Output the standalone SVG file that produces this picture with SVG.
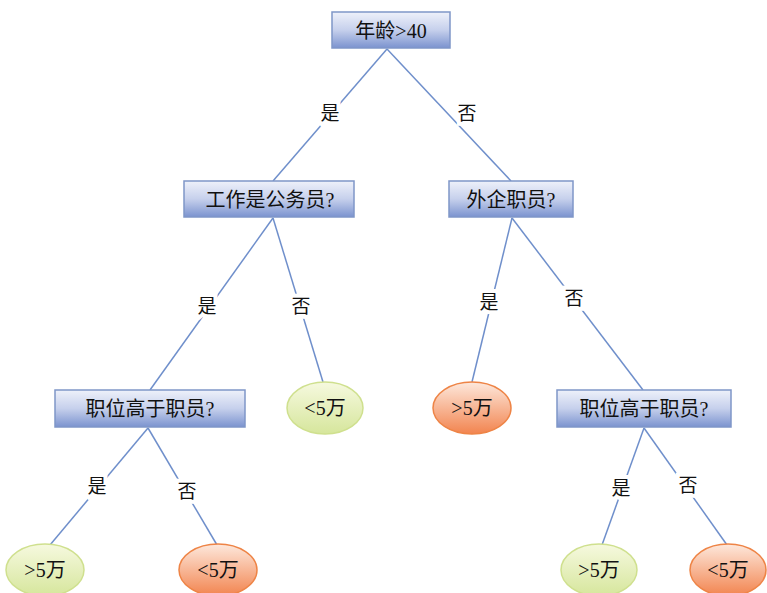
<svg xmlns="http://www.w3.org/2000/svg" width="767" height="593" viewBox="0 0 767 593">
<defs>
<linearGradient id="gBox" x1="0" y1="0" x2="0" y2="1">
<stop offset="0" stop-color="#eef1fa"/>
<stop offset="0.5" stop-color="#c6d0ec"/>
<stop offset="1" stop-color="#7b93cf"/>
</linearGradient>
<linearGradient id="gGreen" x1="0" y1="0" x2="0" y2="1">
<stop offset="0" stop-color="#f6f9df"/>
<stop offset="1" stop-color="#d6e69c"/>
</linearGradient>
<linearGradient id="gOrange" x1="0" y1="0" x2="0" y2="1">
<stop offset="0" stop-color="#fde8dc"/>
<stop offset="1" stop-color="#f2844f"/>
</linearGradient>
<style>
.box{fill:url(#gBox);stroke:#7f96c8;stroke-width:1.5}
.green{fill:url(#gGreen);stroke:#cfe08e;stroke-width:1.5}
.orange{fill:url(#gOrange);stroke:#ee8446;stroke-width:1.5}
.t{font-family:"Liberation Serif","Noto Sans CJK SC",serif;font-size:20px;fill:#111;text-anchor:middle;dominant-baseline:central}
.lbl{font-family:"Liberation Serif","Noto Sans CJK SC",serif;font-size:19px;fill:#111;text-anchor:middle;dominant-baseline:central;stroke:#fff;stroke-width:8;paint-order:stroke}
.c line{stroke:#6f8fcb;stroke-width:1.5}
</style>
</defs>
<rect width="767" height="593" fill="#fff"/>
<g id="connectors" class="c">
<line x1="387" y1="49" x2="273" y2="181"/>
<line x1="387" y1="49" x2="511" y2="181"/>
<line x1="273" y1="218" x2="150" y2="390"/>
<line x1="273" y1="218" x2="323" y2="382"/>
<line x1="512" y1="218" x2="472" y2="382"/>
<line x1="512" y1="218" x2="643" y2="390"/>
<line x1="148" y1="428" x2="50" y2="545"/>
<line x1="148" y1="428" x2="217" y2="545"/>
<line x1="644" y1="428" x2="602" y2="545"/>
<line x1="644" y1="428" x2="727" y2="545"/>
<text class="lbl" x="330" y="113">是</text>
<text class="lbl" x="467" y="113">否</text>
<text class="lbl" x="207" y="306">是</text>
<text class="lbl" x="301" y="306">否</text>
<text class="lbl" x="489" y="302">是</text>
<text class="lbl" x="574" y="298">否</text>
<text class="lbl" x="97" y="486">是</text>
<text class="lbl" x="187" y="491">否</text>
<text class="lbl" x="621" y="488">是</text>
<text class="lbl" x="688" y="485">否</text>
</g>
<g id="root"><rect class="box" x="332" y="12" width="118" height="36"/><text class="t" x="391" y="31">年龄&gt;40</text></g>
<g id="civil"><rect class="box" x="184" y="181" width="170" height="36"/><text class="t" x="270" y="200">工作是公务员?</text></g>
<g id="foreign"><rect class="box" x="449" y="181" width="124" height="36"/><text class="t" x="511" y="200">外企职员?</text></g>
<g id="rankL"><rect class="box" x="55" y="390" width="190" height="37"/><text class="t" x="150" y="409">职位高于职员?</text></g>
<g id="rankR"><rect class="box" x="557" y="390" width="174" height="37"/><text class="t" x="644" y="409">职位高于职员?</text></g>
<g id="leaf1"><ellipse class="green" cx="325" cy="408" rx="38" ry="26"/><text class="t" x="325" y="408">&lt;5万</text></g>
<g id="leaf2"><ellipse class="orange" cx="472" cy="408" rx="39" ry="26"/><text class="t" x="472" y="408">&gt;5万</text></g>
<g id="leaf3"><ellipse class="green" cx="45" cy="570" rx="39" ry="26"/><text class="t" x="45" y="570">&gt;5万</text></g>
<g id="leaf4"><ellipse class="orange" cx="218" cy="570" rx="39" ry="26"/><text class="t" x="218" y="570">&lt;5万</text></g>
<g id="leaf5"><ellipse class="green" cx="599" cy="570" rx="38" ry="26"/><text class="t" x="599" y="570">&gt;5万</text></g>
<g id="leaf6"><ellipse class="orange" cx="728" cy="570" rx="38" ry="26"/><text class="t" x="728" y="570">&lt;5万</text></g>
</svg>
